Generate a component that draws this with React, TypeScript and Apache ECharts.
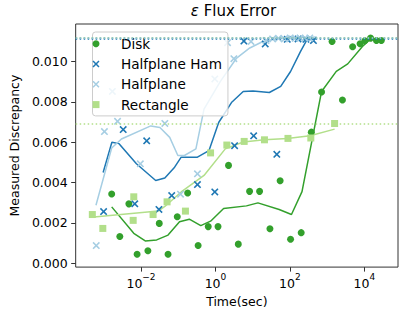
import React, { useEffect, useRef } from 'react';
import * as echarts from 'echarts';

// ---- data (time in seconds, measured discrepancy) ----
const diskTime = [0.00163, 0.00269, 0.00472, 0.00785, 0.0153, 0.0309, 0.0532, 0.0941, 0.179, 0.342, 0.639, 1.17, 2.24, 4.1, 8.24, 15.3, 29.0, 54.6, 104, 201, 375, 708, 1355, 2575, 4833, 7660, 10310, 14650, 21080, 28520];
const diskValue = [0.00343, 0.00132, 0.00294, 0.00044, 0.00061, 0.00197, 0.00044, 0.0023, 0.00348, 0.00087, 0.00181, 0.00181, 0.00485, 0.00094, 0.00356, 0.00356, 0.0017, 0.00409, 0.00118, 0.00151, 0.0065, 0.00849, 0.011, 0.0081, 0.01074, 0.01089, 0.01104, 0.01117, 0.01105, 0.01105];
const diskFitTime = [0.00163, 0.00639, 0.01298, 0.02637, 0.0532, 0.1082, 0.1983, 0.403, 0.738, 1.654, 6.79, 13.8, 51.4, 110, 211, 708, 1758, 3570, 8860, 14650, 28520];
const diskFitValue = [0.00279, 0.00148, 0.0011, 0.00115, 0.00139, 0.00205, 0.00218, 0.00186, 0.00208, 0.00271, 0.00284, 0.00299, 0.00266, 0.00241, 0.00355, 0.00852, 0.00952, 0.00989, 0.01075, 0.01113, 0.01111];

const hamTime = [0.000988, 0.00332, 0.00679, 0.0142, 0.0303, 0.0667, 0.328, 0.959, 3.26, 5.8, 10.6, 21.7, 44.4, 84.9, 165, 269, 428];
const hamValue = [0.00256, 0.00663, 0.00294, 0.00607, 0.00266, 0.00335, 0.0039, 0.00353, 0.00583, 0.01102, 0.00632, 0.01088, 0.0054, 0.01111, 0.01113, 0.01111, 0.01105];
const hamFitTime = [0.00096, 0.00165, 0.00257, 0.00752, 0.0248, 0.0436, 0.0799, 0.12, 0.328, 0.667, 1.22, 2.69, 5.56, 10.2, 28.0, 56.6, 104, 190, 285, 472];
const hamFitValue = [0.0045, 0.006, 0.00593, 0.00493, 0.0041, 0.00422, 0.00476, 0.00526, 0.00526, 0.00558, 0.00698, 0.00797, 0.00852, 0.00854, 0.00847, 0.00877, 0.00951, 0.01049, 0.01108, 0.01112];

const halfTime = [0.000627, 0.00104, 0.0017, 0.00234, 0.00959, 0.0436, 0.115, 0.328, 0.959, 2.11, 3.12, 9.02, 22.8, 34.2, 49.2, 70.8, 102, 138, 187, 253, 342];
const halfValue = [0.00087, 0.00653, 0.00852, 0.00704, 0.00493, 0.00693, 0.00342, 0.00443, 0.00914, 0.01094, 0.01015, 0.011, 0.01105, 0.01113, 0.01116, 0.01113, 0.01118, 0.01116, 0.01118, 0.01116, 0.01118];
const halfFitTime = [0.000616, 0.00163, 0.00298, 0.0183, 0.0322, 0.059, 0.0976, 0.1465, 0.298, 0.492, 1.355, 3.7, 8.34, 18.7, 51.4, 523];
const halfFitValue = [0.00287, 0.00571, 0.00616, 0.00681, 0.00673, 0.00624, 0.00534, 0.00534, 0.00567, 0.00764, 0.00902, 0.01018, 0.01068, 0.011, 0.01116, 0.01123];

const rectTime = [0.000492, 0.000941, 0.00616, 0.00639, 0.0211, 0.0501, 0.156, 0.738, 2.02, 5.9, 20.7, 88.6, 364, 1585];
const rectValue = [0.00241, 0.00172, 0.00212, 0.00329, 0.00241, 0.00304, 0.00258, 0.00547, 0.00586, 0.00604, 0.00612, 0.00619, 0.00621, 0.00693];
const rectFitTime = [0.000463, 0.029, 0.0436, 0.12, 0.492, 1.833, 5.56, 20.7, 84.9, 349, 1585];
const rectFitValue = [0.00227, 0.00258, 0.00281, 0.00353, 0.00435, 0.00567, 0.00601, 0.00612, 0.00619, 0.00632, 0.00665];

const xTickExponents = [-2, 0, 2, 4];
const yTicks = [0, 0.002, 0.004, 0.006, 0.008, 0.01];

const names = ['Disk', 'Halfplane Ham', 'Halfplane', 'Rectangle'];
const colors = ['#33a02c', '#1f78b4', '#a6cee3', '#b2df8a'];

const FONT = 'DejaVu Sans';
const X_PATH = 'path://M0,1.5L1.5,0L5,3.5L8.5,0L10,1.5L6.5,5L10,8.5L8.5,10L5,6.5L1.5,10L0,8.5L3.5,5Z';
const SQ_PATH = 'path://M0,0L10,0L10,10L0,10Z';

const toPairs = (t: number[], v: number[]) => t.map((x, i) => [Math.log10(x), v[i]]);

export default function App() {
  const ref = useRef<HTMLDivElement>(null);
  useEffect(() => {
    const chart = echarts.init(ref.current!, null, { renderer: 'svg' });
    const scatterSets = [
      { t: diskTime, v: diskValue, symbol: 'circle', size: 7 },
      { t: hamTime, v: hamValue, symbol: X_PATH, size: 7.5 },
      { t: halfTime, v: halfValue, symbol: X_PATH, size: 7.5 },
      { t: rectTime, v: rectValue, symbol: 'rect', size: 7 },
    ];
    const fitSets = [
      { t: diskFitTime, v: diskFitValue },
      { t: hamFitTime, v: hamFitValue },
      { t: halfFitTime, v: halfFitValue },
      { t: rectFitTime, v: rectFitValue },
    ];
    const series: any[] = [];
    fitSets.forEach((f, i) => {
      series.push({
        type: 'line',
        name: names[i] + ' fit',
        data: toPairs(f.t, f.v),
        showSymbol: false,
        symbol: 'none',
        silent: true,
        z: 2,
        lineStyle: { color: colors[i], width: 1.5 },
        itemStyle: { color: colors[i] },
      });
    });
    scatterSets.forEach((s, i) => {
      series.push({
        type: 'scatter',
        name: names[i],
        data: toPairs(s.t, s.v),
        symbol: s.symbol,
        symbolSize: s.size,
        z: 3,
        itemStyle: { color: colors[i], opacity: 1 },
        markLine: {
          silent: true,
          precision: 10,
          symbol: ['none', 'none'],
          label: { show: false },
          emphasis: { disabled: true },
          lineStyle: { color: colors[i], type: [1.5, 2.5], width: 1.5 },
          data: [{ yAxis: Math.max(...s.v) }],
        },
      });
    });

    chart.setOption({
      animation: false,
      backgroundColor: '#ffffff',
      textStyle: { fontFamily: FONT },
      title: {
        text: '{e|ε} Flux Error',
        left: 233.5,
        top: 3,
        textAlign: 'center',
        padding: 0,
        textStyle: {
          fontSize: 15,
          fontWeight: 'normal',
          color: '#000',
          fontFamily: FONT,
          rich: { e: { fontStyle: 'italic', fontSize: 15, fontFamily: FONT, color: '#000' } },
        },
      },
      grid: { left: 69, right: 10, top: 24, bottom: 44, show: true, borderColor: '#333', borderWidth: 1, backgroundColor: 'transparent' },
      xAxis: {
        type: 'value',
        min: -3.755,
        max: 4.903,
        axisLine: { show: false, onZero: false },
        splitLine: { show: false },
        axisTick: { show: true, customValues: xTickExponents, length: 4.5, lineStyle: { color: '#333' } },
        axisLabel: {
          customValues: xTickExponents,
          margin: 5,
          color: '#000',
          formatter: (v: number) => `{b|10}{s|${v < 0 ? '\u2212' + Math.abs(v) : v}}`,
          rich: {
            b: { fontSize: 12.5, lineHeight: 18, verticalAlign: 'bottom', fontFamily: FONT, color: '#000' },
            s: { fontSize: 9, lineHeight: 9, verticalAlign: 'top', fontFamily: FONT, color: '#000' },
          },
        },
        name: 'Time(sec)',
        nameLocation: 'middle',
        nameGap: 23,
        nameTextStyle: { fontSize: 12.5, color: '#000', fontFamily: FONT },
      },
      yAxis: {
        type: 'value',
        min: -0.0002,
        max: 0.01187,
        axisLine: { show: false, onZero: false },
        splitLine: { show: false },
        axisTick: { show: true, customValues: yTicks, length: 4.5, lineStyle: { color: '#333' } },
        axisLabel: {
          customValues: yTicks,
          margin: 8,
          fontSize: 12.5,
          color: '#000',
          fontFamily: FONT,
          formatter: (v: number) => v.toFixed(3),
        },
        name: 'Measured Discrepancy',
        nameLocation: 'middle',
        nameGap: 39,
        nameRotate: 90,
        nameTextStyle: { fontSize: 12.5, color: '#000', fontFamily: FONT },
      },
      legend: {
        orient: 'vertical',
        left: 92.5,
        top: 32,
        data: [
          { name: names[0], icon: 'circle' },
          { name: names[1], icon: X_PATH },
          { name: names[2], icon: X_PATH },
          { name: names[3], icon: SQ_PATH },
        ],
        itemWidth: 40,
        itemHeight: 7,
        itemGap: 4.3,
        padding: [3.7, 6, 3.3, 0],
        backgroundColor: 'rgba(255,255,255,0.8)',
        borderColor: '#cccccc',
        borderWidth: 1,
        borderRadius: 3,
        selectedMode: false,
        textStyle: { fontSize: 13.6, lineHeight: 16, color: '#000', fontFamily: FONT },
      },
      series,
    });
    return () => chart.dispose();
  }, []);
  return <div ref={ref} style={{ width: 408, height: 313, position: 'absolute', left: 0, top: 0 }} />;
}
